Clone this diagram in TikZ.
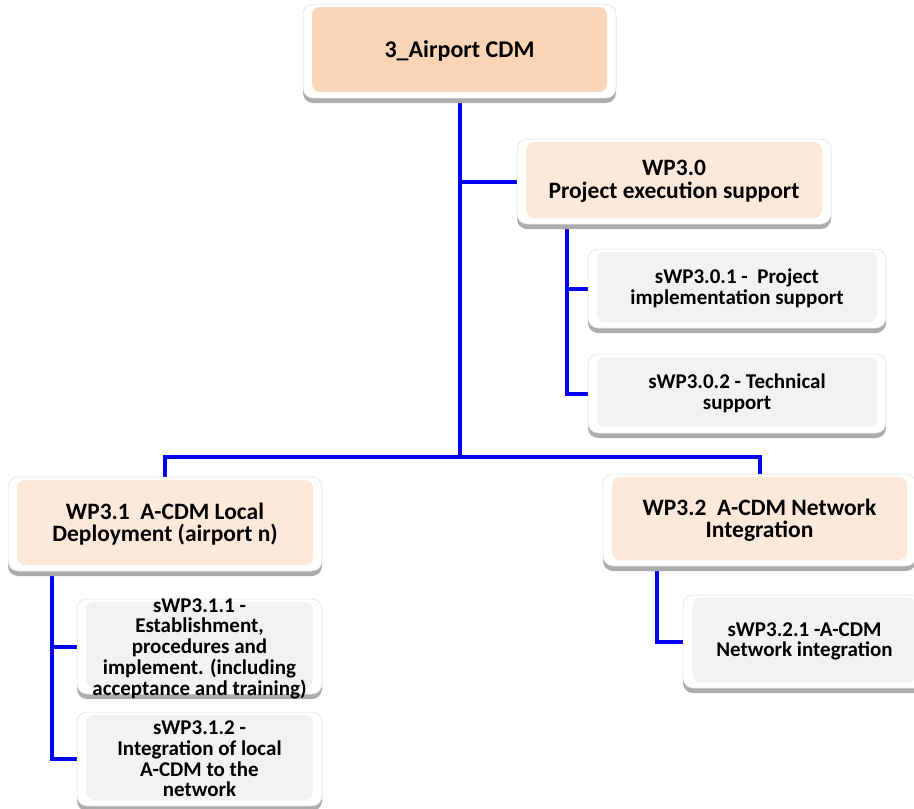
\documentclass[tikz,border=0pt]{standalone}
\usepackage{fontspec}
\setmainfont{Carlito}
\usetikzlibrary{shadows,backgrounds}
\definecolor{topfill}{RGB}{251,213,181}
\definecolor{wpfill}{RGB}{253,233,217}
\definecolor{subfill}{RGB}{242,242,242}
\definecolor{connblue}{RGB}{0,0,245}
\tikzset{
  frame/.style={rectangle, rounded corners=10pt, fill=white, draw=gray!25, line width=0.5pt,
    drop shadow={shadow xshift=0pt, shadow yshift=-5pt, fill=gray!65, opacity=1},
    inner sep=0pt, align=center,
    path picture={\fill[#1, rounded corners=8pt]
      ([shift={(9pt,-3pt)}]path picture bounding box.north west) rectangle
      ([shift={(-9pt,6pt)}]path picture bounding box.south east);}},
  topbox/.style={frame=topfill, minimum width=313pt, minimum height=94pt,
    font=\fontsize{24}{24}\selectfont\bfseries},
  wpbox/.style={frame=wpfill, minimum width=314pt, minimum height=88pt,
    font=\fontsize{23.5}{22.5}\selectfont\bfseries},
  subbox/.style={frame=subfill, font=\fontsize{21}{20.7}\selectfont\bfseries},
  subtext/.style={align=center, inner sep=0pt, font=\fontsize{21}{20.7}\selectfont\bfseries},
  conn/.style={draw=connblue, line width=4pt}
}
\begin{document}
\begin{tikzpicture}[x=1pt,y=-1pt]
\useasboundingbox (0,0) rectangle (914,809);
% boxes
\node[topbox] (top) at (459.5,51) {3\_Airport CDM};
\node[wpbox, minimum height=85pt] (wp0) at (674,181.5) {WP3.0\\Project execution support};
\node[subbox, minimum width=298pt, minimum height=79pt] (s01) at (737,288.5) {sWP3.0.1 -~ Project\\implementation support};
\node[subbox, minimum width=298pt, minimum height=79pt] (s02) at (737,393.5) {sWP3.0.2 - Technical\\support};
\node[wpbox, minimum height=94pt] (wp1) at (165,524) {WP3.1~ A-CDM Local\\Deployment (airport n)};
\node[subbox, minimum width=245pt, minimum height=95pt] (s11) at (199.5,646.5) {};
\node[subtext] (s11t) at ([yshift=-2pt]s11.center) {sWP3.1.1 -\\Establishment,\\procedures and\\implement. (including\\acceptance and training)};
\node[subbox, minimum width=245pt, minimum height=94pt] (s12) at (199.5,759) {sWP3.1.2 -\\Integration of local\\A-CDM to the\\network};
\node[wpbox, minimum width=313pt, minimum height=92pt] (wp2) at (759.5,520) {WP3.2~ A-CDM Network\\Integration};
\node[subbox, minimum width=243pt, minimum height=93pt] (s21) at (804.5,641.5) {sWP3.2.1 -A-CDM\\Network integration};
% connectors
\coordinate (bus) at (0,457);
\coordinate (t0) at (567,0);
\coordinate (t1) at (52,0);
\coordinate (t2) at (657,0);
\begin{pgfonlayer}{background}
\draw[conn] (top.south) -- (top.south |- bus);
\draw[conn] (top.south) |- (wp0.west);
\draw[conn] (wp1.north) -- (wp1.north |- bus) -- (wp2.north |- bus) -- (wp2.north);
\draw[conn] (wp0.south -| t0) |- (s01.west);
\draw[conn] (wp0.south -| t0) |- (s02.west);
\draw[conn] (wp1.south -| t1) |- (s11.west);
\draw[conn] (wp1.south -| t1) |- (s12.west);
\draw[conn] (wp2.south -| t2) |- (s21.west);
\end{pgfonlayer}
\end{tikzpicture}
\end{document}
